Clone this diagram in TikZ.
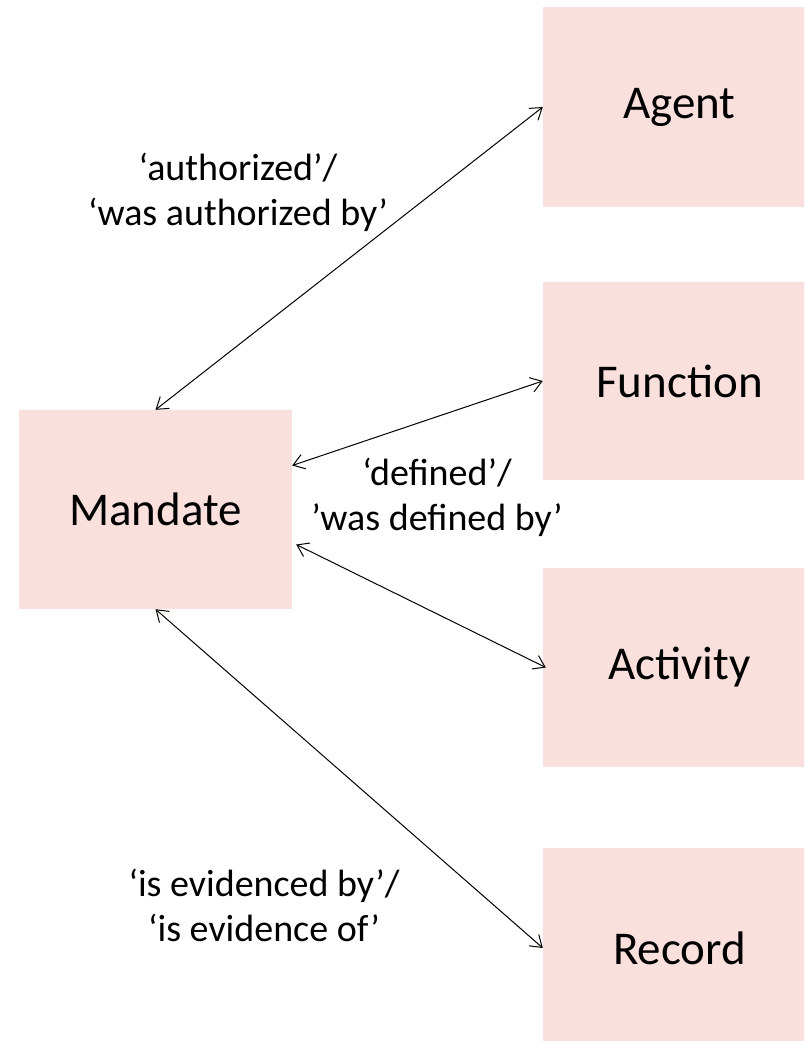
\documentclass[tikz,border=0pt]{standalone}
\usepackage{fontspec}
\setmainfont{Carlito}
\usetikzlibrary{arrows.meta}
\definecolor{boxpink}{RGB}{249,224,221}
\tikzset{
  entity/.style={fill=boxpink, draw=none, minimum width=273pt, minimum height=200pt, inner sep=0pt,
    font=\fontsize{47}{55}\selectfont},
  rel/.style={{Straight Barb[length=11pt,width=15pt]}-{Straight Barb[length=11pt,width=15pt]}, line width=1pt, black},
  lbl/.style={align=center, font=\fontsize{38}{45}\selectfont, inner sep=0pt}
}
\begin{document}
\begin{tikzpicture}[x=1pt,y=-1pt]
\useasboundingbox (0,0) rectangle (804,1041);
\clip (0,0) rectangle (804,1041);
\node[entity] (agent) at (679.5,107) {\raisebox{-4pt}{Agent}};
\node[entity, minimum height=198pt] (function) at (679.5,381) {\raisebox{-3pt}{Function}};
\node[entity, minimum height=199pt] (activity) at (679.5,667.5) {\raisebox{-3pt}{Activity}};
\node[entity] (record) at (679.5,948) {Record};
\node[entity, minimum height=199pt] (mandate) at (155.5,509.5) {\raisebox{-2pt}{Mandate}};

\draw[rel] (mandate.north) -- (agent.west);
\draw[rel] ([yshift=44pt]mandate.east) -- (function.west);
\draw[rel] ([xshift=4pt,yshift=-35pt]mandate.east) -- ([xshift=3pt]activity.west);
\draw[rel] (mandate.south) -- (record.west);

\node[lbl] (l1) at (238,192) {‘authorized’/\\‘was authorized by’};
\node[lbl] (l2) at (437,497) {‘defined’/\\’was defined by’};
\node[lbl] (l3) at (264,905) {‘is evidenced by’/\\‘is evidence of’};
\end{tikzpicture}
\end{document}
